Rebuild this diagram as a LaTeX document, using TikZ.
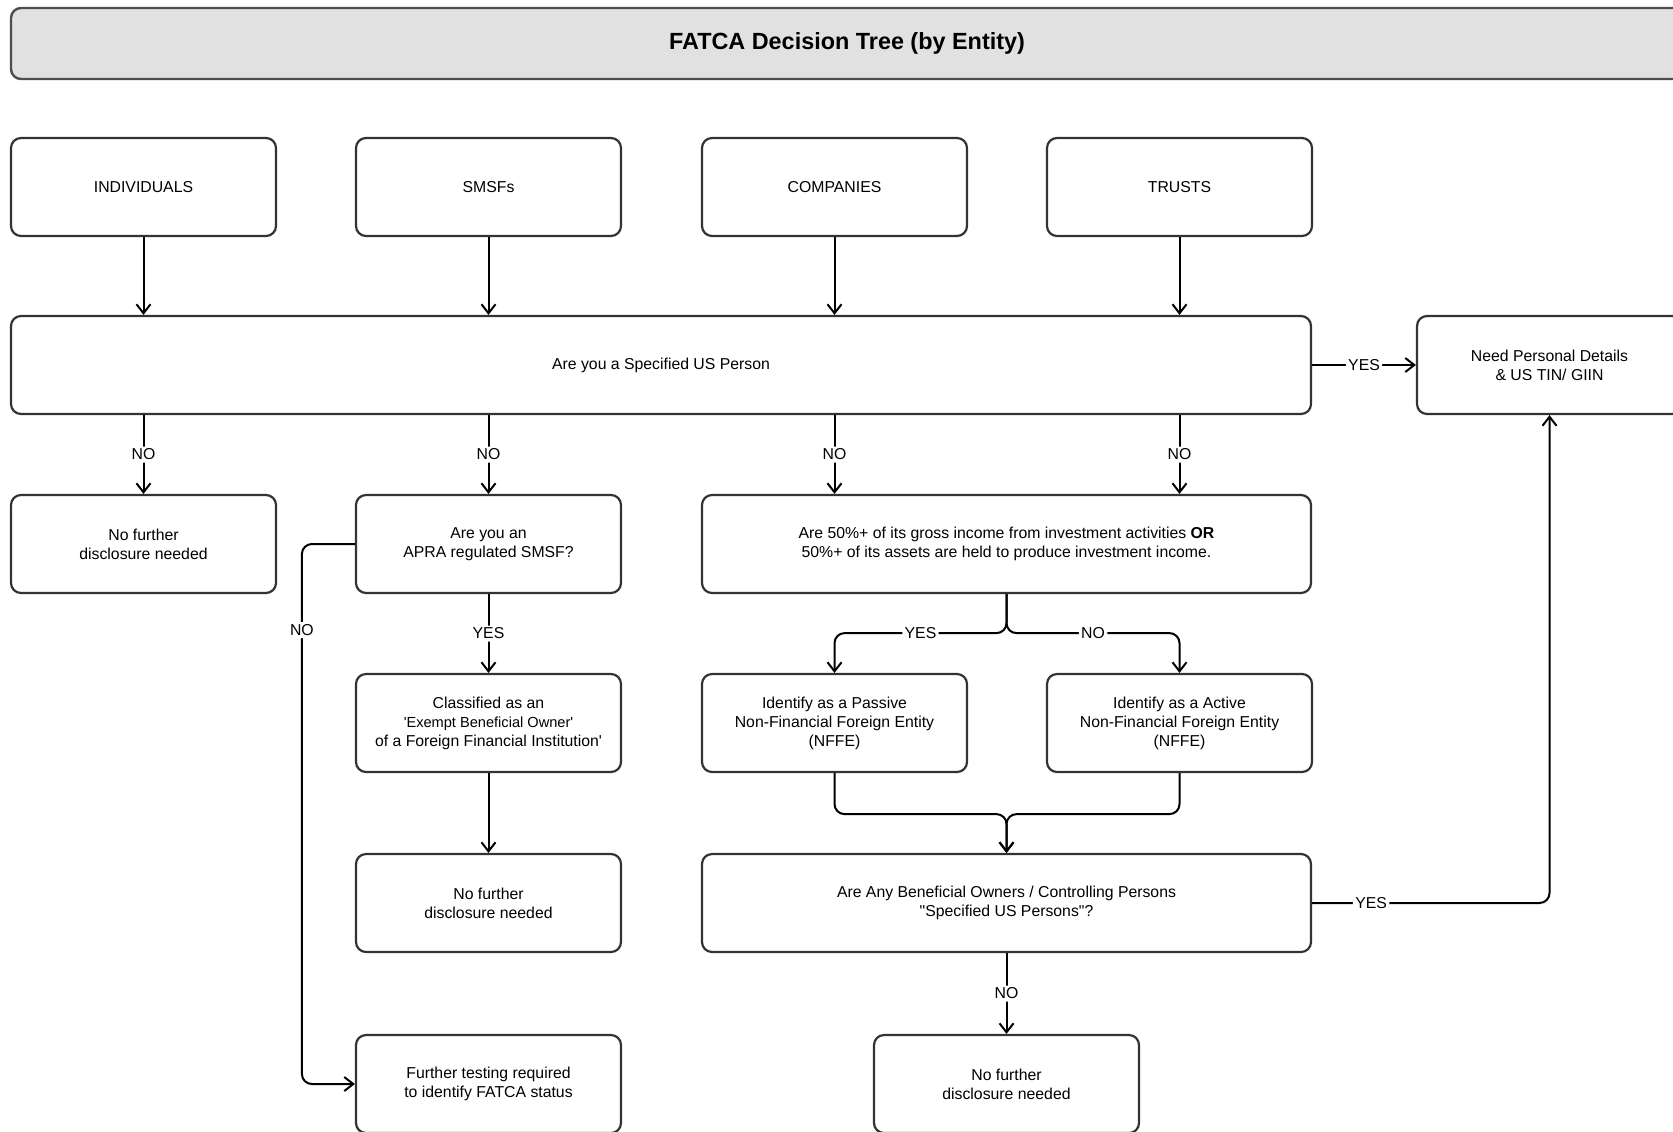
\documentclass[tikz,border=0pt]{standalone}
\usepackage{fontspec}
\setmainfont{Liberation Sans}[Ligatures=TeXOff]
\usetikzlibrary{arrows.meta}
\definecolor{bord}{HTML}{333333}
\definecolor{titlefill}{HTML}{E1E1E1}
\definecolor{titlebord}{HTML}{4D4D4D}
\tikzset{
  txt/.style={font=\fontsize{7.9}{9.5}\selectfont},
  box/.style={txt, draw=bord, line width=1.1pt, rounded corners=5pt,
    minimum width=132.5pt, minimum height=49pt, align=center, inner sep=2pt},
  widebox/.style={box, minimum width=304.5pt},
  bigbox/.style={box, minimum width=650pt},
  titlebox/.style={draw=titlebord, fill=titlefill, line width=1.2pt, rounded corners=5pt,
    minimum width=836pt, minimum height=35.5pt,
    font=\bfseries\fontsize{11.7}{14}\selectfont},
  arr/.style={line width=1pt, draw=black, rounded corners=5pt,
    -{Straight Barb[length=4.5pt,width=7pt]}},
  lbl/.style={txt, fill=white, inner sep=1.2pt}
}
\begin{document}
\begin{tikzpicture}[x=0.5pt, y=-0.5pt]
\useasboundingbox (0,0) rectangle (1673,1131);
\clip (0,0) rectangle (1673,1131);
\fill[white] (0,0) rectangle (1673,1131);

\node[titlebox] (title) at (847,43.5) {FATCA Decision Tree (by Entity)};

\node[box] (ind)   at (143.5,187) {INDIVIDUALS};
\node[box] (smsf)  at (488.5,187) {SMSFs};
\node[box] (comp)  at (834.5,187) {COMPANIES};
\node[box] (trust) at (1179.5,187) {TRUSTS};

\node[bigbox] (big) at (661,365) {Are you a Specified US Person};
\node[box] (need) at (1549.5,365) {Need Personal Details\\\& US TIN/ GIIN};

\node[box] (nfa) at (143.5,544) {No further\\disclosure needed};
\node[box] (apra) at (488.5,544) {Are you an\\APRA regulated SMSF?};
\node[widebox] (fifty) at (1006.5,544) {Are 50\%+ of its gross income from investment activities \textbf{OR}\\50\%+ of its assets are held to produce investment income.};

\node[box] (cls) at (488.5,723) {Classified as an\\{\fontsize{7.3}{9}\selectfont 'Exempt Beneficial Owner'}\\of a Foreign Financial Institution'};
\node[box] (pas) at (834.5,723) {Identify as a Passive\\Non-Financial Foreign Entity\\(NFFE)};
\node[box] (act) at (1179.5,723) {Identify as a Active\\Non-Financial Foreign Entity\\(NFFE)};

\node[box] (nfb) at (488.5,903) {No further\\disclosure needed};
\node[widebox] (ben) at (1006.5,903) {Are Any Beneficial Owners / Controlling Persons\\"Specified US Persons"?};

\node[box] (ft) at (488.5,1084) {Further testing required\\to identify FATCA status};
\node[box] (nfc) at (1006.5,1084) {No further\\disclosure needed};

% top row into big box
\draw[arr] (ind.south) -- (ind.south |- big.north);
\draw[arr] (smsf.south) -- (smsf.south |- big.north);
\draw[arr] (comp.south) -- (comp.south |- big.north);
\draw[arr] (trust.south) -- (trust.south |- big.north);

% big box outcomes
\draw[arr] (big.east) -- (need.west) node[midway,lbl] {YES};
\draw[arr] (big.south -| nfa) -- (nfa.north) node[midway,lbl] {NO};
\draw[arr] (big.south -| apra) -- (apra.north) node[midway,lbl] {NO};
\draw[arr] (big.south -| comp) -- (comp |- fifty.north) node[midway,lbl] {NO};
\draw[arr] (big.south -| trust) -- (trust |- fifty.north) node[midway,lbl] {NO};

% SMSF branch
\draw[arr] (apra.south) -- (cls.north) node[midway,lbl] {YES};
\draw[arr] (cls.south) -- (nfb.north);
\draw[arr] (apra.west) -- ++(-53,0) -- ++(0,86) node[lbl] {NO} |- (ft.west);

% companies / trusts branch
\draw[arr] (fifty.south) -- ++(0,39) -| (pas.north) node[pos=0.25,lbl] {YES};
\draw[arr] (fifty.south) -- ++(0,39) -| (act.north) node[pos=0.25,lbl] {NO};
\draw[arr] (pas.south) -- ++(0,41) -| (ben.north);
\draw[arr] (act.south) -- ++(0,41) -| (ben.north);

\draw[arr] (ben.east) -- ++(59,0) node[lbl] {YES} -| (need.south);
\draw[arr] (ben.south) -- (nfc.north) node[midway,lbl] {NO};
\end{tikzpicture}
\end{document}
